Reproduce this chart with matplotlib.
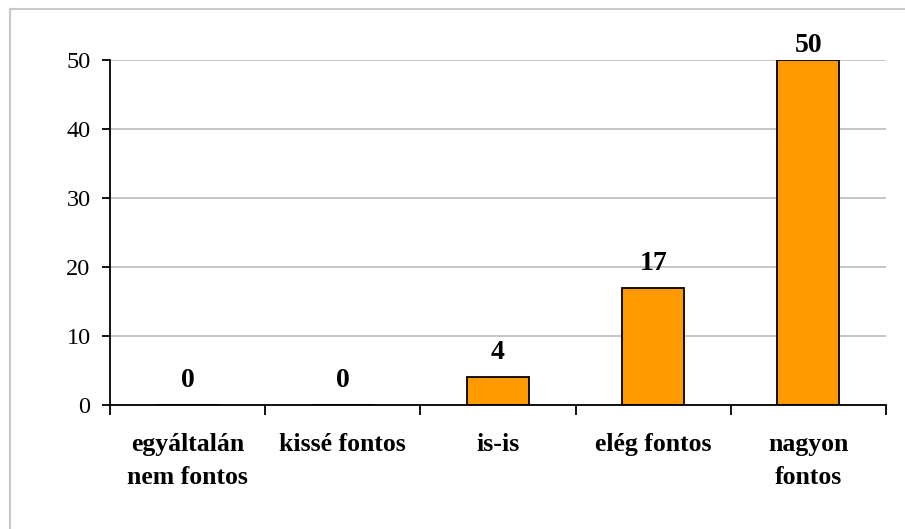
import matplotlib.pyplot as plt
from matplotlib.lines import Line2D

categories = ["egyáltalán\nnem fontos", "kissé fontos", "is-is", "elég fontos", "nagyon\nfontos"]
values = [0, 0, 4, 17, 50]
yticks = [0, 10, 20, 30, 40, 50]

plt.rcParams['font.family'] = ['Liberation Serif', 'DejaVu Serif']

fig = plt.figure(figsize=(9.05, 5.29), dpi=100)
ax = fig.add_axes([110 / 905, 1 - 405 / 529, 776 / 905, 345 / 529])

x = list(range(len(categories)))
ax.bar(x, values, width=0.4, color='#FF9900', edgecolor='black', linewidth=1.3, zorder=3)

ymax = max(yticks)
for xi, v in zip(x, values):
    # label at the top of the scale gets pushed down, like the original
    off = 6 if v >= ymax else 13
    ax.annotate(str(v), (xi, v), xytext=(0, off), textcoords='offset points',
                ha='center', va='baseline', fontsize=20, fontweight='bold')

ax.set_xlim(-0.5, len(categories) - 0.5)
ax.set_ylim(0, ymax)
ax.set_yticks(yticks)
ax.tick_params(axis='y', direction='out', length=6, width=1.3, pad=8, labelsize=17.5)

ax.set_xticks(x)
ax.set_xticklabels(categories, fontweight='bold', fontsize=18.5, linespacing=1.55)
ax.set_xticks([i - 0.5 for i in range(len(categories) + 1)], minor=True)
ax.tick_params(axis='x', which='major', length=0, pad=20)
ax.tick_params(axis='x', which='minor', direction='out', length=7, width=1.3)

ax.grid(axis='y', color='#C0C0C0', linewidth=1.3, zorder=0)
for s in ['top', 'right']:
    ax.spines[s].set_visible(False)
for s in ['left', 'bottom']:
    ax.spines[s].set_linewidth(1.3)
    ax.spines[s].set_zorder(4)

# light gray frame around the chart area (only top and left visible)
fig.add_artist(Line2D([10 / 905, 10 / 905], [0, 1 - 9 / 529], color='#C8C8C8', linewidth=1.5))
fig.add_artist(Line2D([10 / 905, 1], [1 - 9 / 529, 1 - 9 / 529], color='#C8C8C8', linewidth=1.5))

fig.savefig('out.png', dpi=100)
